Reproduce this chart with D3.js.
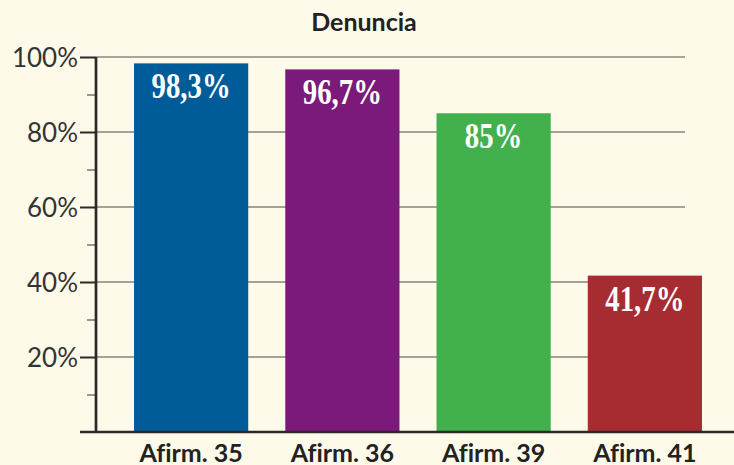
<!DOCTYPE html>
<html><head><meta charset="utf-8">
<script src="https://cdn.jsdelivr.net/npm/d3@7"></script>
<style>body{margin:0;background:#fefaea}svg{display:block}text{font-variant-ligatures:none;font-feature-settings:"liga" 0}</style>
</head><body>
<svg id="c" width="734" height="465"></svg>
<script>
const categories = ["Afirm. 35", "Afirm. 36", "Afirm. 39", "Afirm. 41"];
const values = [98.3, 96.7, 85, 41.7];
const valueLabels = ["98,3%", "96,7%", "85%", "41,7%"];
const colors = ["#005b99", "#7b1a7a", "#41b04d", "#a72c32"];
const majorTicks = [20, 40, 60, 80, 100];
const minorTicks = [10, 30, 50, 70, 90];
const title = "Denuncia";

const svg = d3.select("#c");
svg.append("rect").attr("width", 734).attr("height", 465).attr("fill", "#fefaea");

const x = d3.scaleBand().domain(categories).range([115.5, 720.5]).paddingInner(0.245).paddingOuter(0.1225);
const y = d3.scaleLinear().domain([0, 100]).range([432, 57]);
const axisX = 96;

// gridlines
svg.append("g").selectAll("line").data(majorTicks).join("line")
  .attr("x1", axisX).attr("x2", 685)
  .attr("y1", d => y(d)).attr("y2", d => y(d))
  .attr("stroke", d => d === 100 ? "#8a887c" : "#4a4a44")
  .attr("stroke-width", d => d === 100 ? 1.6 : 1.2);

// bars
svg.append("g").selectAll("rect").data(values).join("rect")
  .attr("x", (d, i) => x(categories[i]))
  .attr("width", x.bandwidth())
  .attr("y", d => y(d))
  .attr("height", d => y(0) - y(d))
  .attr("fill", (d, i) => colors[i]);

// value labels
svg.append("g").selectAll("text").data(values).join("text")
  .attr("transform", (d, i) => `translate(${x(categories[i]) + x.bandwidth() / 2},${y(d) + 35}) scale(0.8,1)`)
  .attr("text-anchor", "middle")
  .attr("font-family", "Liberation Serif, DejaVu Serif, serif")
  .attr("font-weight", "bold")
  .attr("font-size", 36)
  .attr("fill", "#ffffff")
  .text((d, i) => valueLabels[i]);

// y axis with ticks
const yAxis = d3.axisLeft(y).tickValues(majorTicks).tickSize(16).tickPadding(2).tickFormat(d => d + "%");
const gy = svg.append("g").attr("transform", `translate(${axisX},0)`).call(yAxis);
gy.select(".domain").remove();
gy.selectAll(".tick line").attr("stroke", "#2a2a2a").attr("stroke-width", 2);
gy.selectAll(".tick text").attr("font-family", "Lato, sans-serif").attr("font-size", 26).attr("fill", "#333").attr("dy", "0.36em");

const yMinor = d3.axisLeft(y).tickValues(minorTicks).tickSize(9).tickFormat("");
const gm = svg.append("g").attr("transform", `translate(${axisX},0)`).call(yMinor);
gm.select(".domain").remove();
gm.selectAll(".tick line").attr("stroke", "#555").attr("stroke-width", 1.2);

// axis line
svg.append("line").attr("x1", axisX).attr("x2", axisX).attr("y1", y(100)).attr("y2", y(0))
  .attr("stroke", "#2a2a2a").attr("stroke-width", 2.7);
// baseline
svg.append("line").attr("x1", 80).attr("x2", 734).attr("y1", y(0)).attr("y2", y(0))
  .attr("stroke", "#2a2a2a").attr("stroke-width", 2.7);

// x labels
const xAxis = d3.axisBottom(x).tickSize(0).tickPadding(0);
const gx = svg.append("g").attr("transform", `translate(0,${y(0)})`).call(xAxis);
gx.select(".domain").remove();
gx.selectAll(".tick text").attr("font-family", "Lato, sans-serif").attr("font-weight", "bold")
  .attr("font-size", 25).attr("fill", "#222").attr("dy", null).attr("y", 30);

// title
svg.append("text").attr("x", 364).attr("y", 31).attr("text-anchor", "middle")
  .attr("font-family", "Lato, sans-serif").attr("font-weight", "bold").attr("font-size", 25)
  .attr("fill", "#222").text(title);
</script>
</body></html>
